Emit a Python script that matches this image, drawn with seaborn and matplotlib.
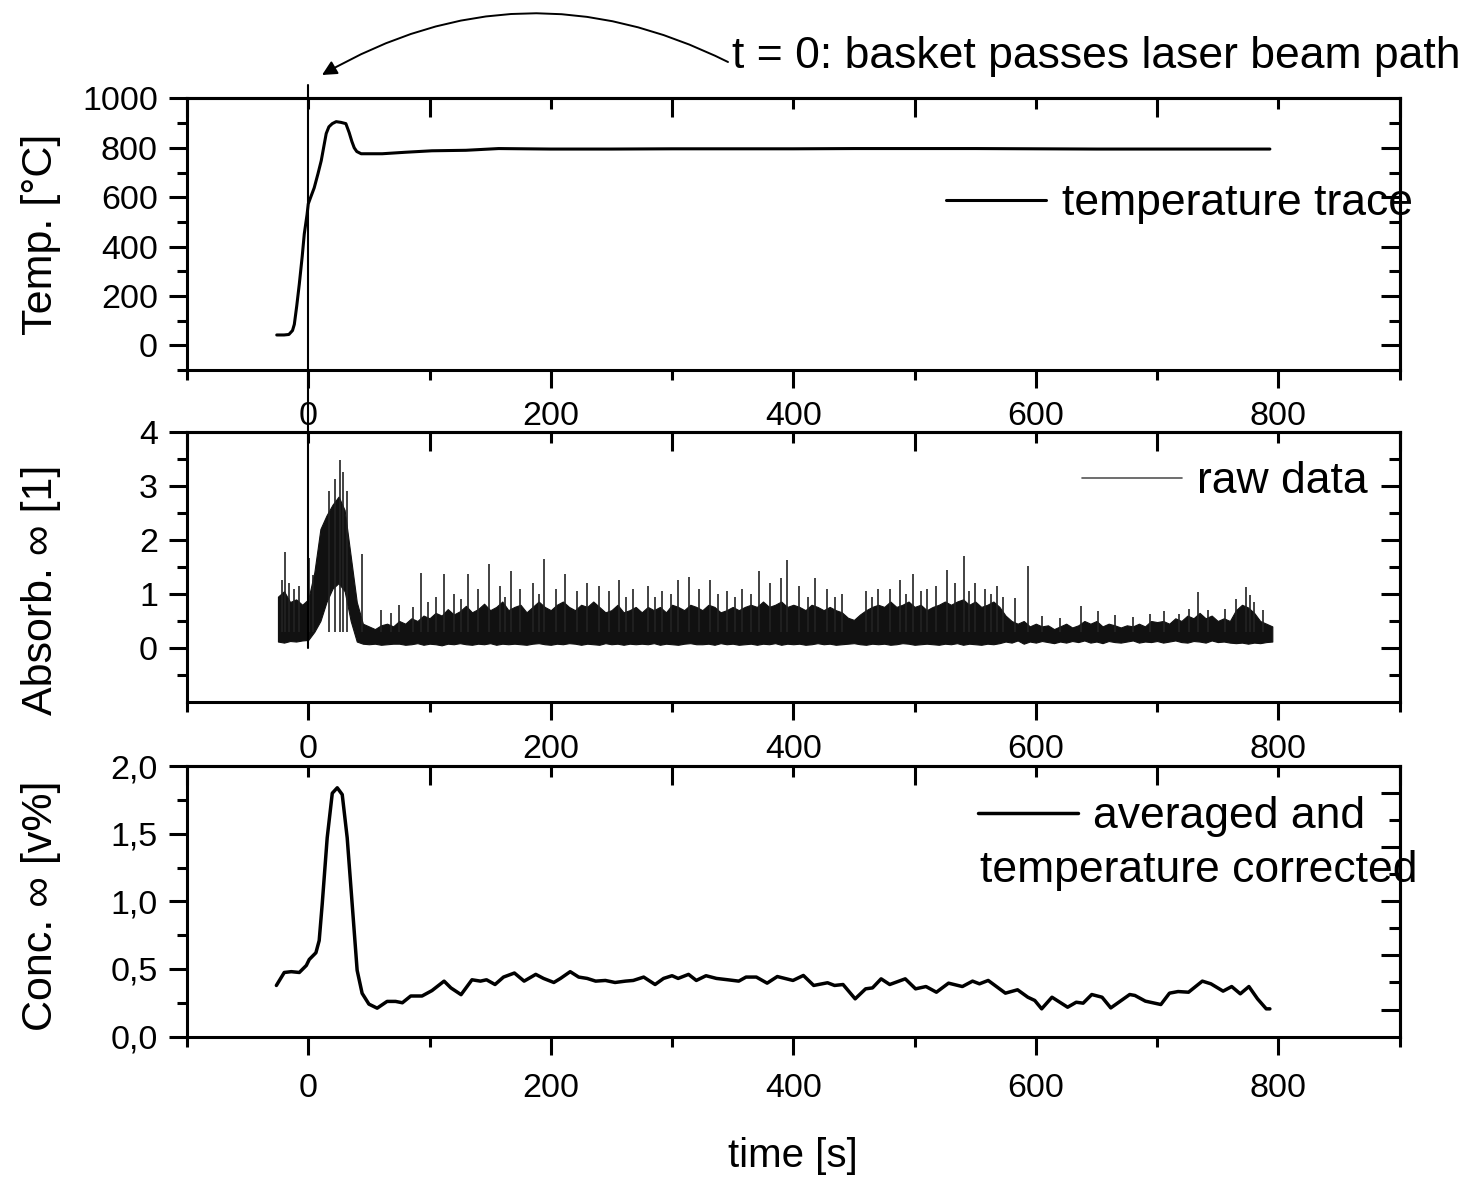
import numpy as np
import matplotlib
matplotlib.use("Agg")
import matplotlib.pyplot as plt
import seaborn as sns
from matplotlib.lines import Line2D
from matplotlib.ticker import FixedLocator, FixedFormatter

# ---- data ----
temp_t = [-26, -20, -16, -13, -11.5, -9.5, -7.4, -5, -3.3, -1, 0, 2, 4.9, 8, 10.7, 13, 14.8, 17,
          19.8, 23, 27, 31, 33.7, 36, 37.9, 40, 43.6, 50, 61, 80, 102, 130, 157, 200, 250, 300,
          350, 400, 450, 500, 550, 600, 650, 700, 750, 793]
temp_v = [42, 42, 44, 60, 85, 160, 248, 360, 451, 530, 573, 600, 638, 695, 748, 810, 858, 885,
          898, 906, 903, 898, 862, 825, 800, 785, 776, 776, 776, 782, 788, 790, 797, 795, 795, 796,
          796, 796, 797, 797, 797, 796, 795, 795, 795, 795]

# raw absorbance: band envelope sampled every 5 s, plus the tallest spikes
raw_t = np.arange(-25, 800, 5)
raw_hi = [0.95, 1.05, 0.85, 0.9, 0.8, 0.9, 1.4, 2.2, 2.45, 2.65,
          2.8, 2.55, 1.7, 0.85, 0.45, 0.4, 0.35, 0.42, 0.45, 0.4,
          0.5, 0.45, 0.55, 0.5, 0.6, 0.55, 0.65, 0.6, 0.72, 0.62,
          0.68, 0.78, 0.66, 0.72, 0.82, 0.7, 0.76, 0.86, 0.7, 0.76,
          0.8, 0.66, 0.76, 0.86, 0.76, 0.7, 0.8, 0.86, 0.76, 0.7,
          0.8, 0.76, 0.86, 0.76, 0.66, 0.7, 0.8, 0.66, 0.7, 0.76,
          0.66, 0.76, 0.7, 0.76, 0.66, 0.8, 0.76, 0.7, 0.8, 0.76,
          0.7, 0.8, 0.76, 0.66, 0.7, 0.76, 0.7, 0.76, 0.8, 0.76,
          0.86, 0.76, 0.8, 0.86, 0.76, 0.8, 0.76, 0.7, 0.8, 0.76,
          0.7, 0.76, 0.7, 0.66, 0.56, 0.52, 0.62, 0.7, 0.76, 0.8,
          0.76, 0.86, 0.76, 0.8, 0.86, 0.76, 0.8, 0.7, 0.76, 0.8,
          0.86, 0.8, 0.86, 0.9, 0.8, 0.86, 0.76, 0.8, 0.86, 0.76,
          0.6, 0.5, 0.45, 0.5, 0.4, 0.45, 0.4, 0.42, 0.35, 0.4,
          0.45, 0.38, 0.42, 0.5, 0.45, 0.5, 0.4, 0.45, 0.42, 0.38,
          0.42, 0.4, 0.45, 0.4, 0.5, 0.48, 0.5, 0.45, 0.55, 0.5,
          0.6, 0.55, 0.65, 0.55, 0.6, 0.5, 0.55, 0.5, 0.7, 0.8,
          0.75, 0.65, 0.5, 0.45, 0.4]
raw_lo = [0.12, 0.1, 0.13, 0.12, 0.14, 0.15, 0.3, 0.5, 0.85, 1.1,
          1.2, 1.05, 0.5, 0.12, 0.08, 0.07, 0.08, 0.06, 0.07, 0.08,
          0.08, 0.06, 0.07, 0.09, 0.06, 0.08, 0.07, 0.05, 0.08, 0.07,
          0.09, 0.07, 0.06, 0.08, 0.07, 0.09, 0.06, 0.08, 0.07, 0.08,
          0.07, 0.06, 0.08, 0.09, 0.07, 0.06, 0.08, 0.07, 0.09, 0.08,
          0.06, 0.08, 0.07, 0.06, 0.09, 0.07, 0.08, 0.06, 0.08, 0.07,
          0.08, 0.07, 0.09, 0.06, 0.08, 0.07, 0.06, 0.08, 0.09, 0.07,
          0.07, 0.08, 0.06, 0.09, 0.07, 0.08, 0.06, 0.07, 0.08, 0.06,
          0.08, 0.07, 0.09, 0.06, 0.08, 0.07, 0.08, 0.06, 0.07, 0.09,
          0.07, 0.08, 0.06, 0.07, 0.08, 0.09, 0.07, 0.06, 0.08, 0.07,
          0.08, 0.06, 0.07, 0.09, 0.08, 0.06, 0.07, 0.08, 0.07, 0.06,
          0.08, 0.07, 0.09, 0.06, 0.08, 0.07, 0.06, 0.08, 0.07, 0.09,
          0.12, 0.1, 0.14, 0.08, 0.12, 0.1, 0.13, 0.11, 0.09, 0.12,
          0.1, 0.13, 0.11, 0.14, 0.1, 0.12, 0.09, 0.13, 0.11, 0.1,
          0.12, 0.14, 0.1, 0.12, 0.11, 0.13, 0.1, 0.12, 0.14, 0.11,
          0.1, 0.13, 0.12, 0.1, 0.14, 0.11, 0.12, 0.1, 0.09, 0.1,
          0.08, 0.1, 0.09, 0.11, 0.12]
spike_t = [-22, -19, -16, -12, -8, 1, 4, 17, 22, 26, 29, 32, 44.6, 60, 68, 75, 86, 93, 99, 105,
           112, 120, 126, 131.7, 140, 149, 158, 162, 166.8, 175, 185, 190, 194.8, 204, 212, 222,
           230, 239.5, 248, 256.5, 262, 268, 280, 286, 292, 299, 305, 314, 322, 331, 338, 345,
           352, 358, 365, 372, 381, 390, 395, 405, 412, 418, 428, 434, 440, 460, 465, 470, 480,
           488, 493, 499, 505, 510, 518, 527, 533, 540.5, 545, 550, 558, 563, 568, 573, 583,
           593.4, 605, 620, 637, 651, 665, 680, 694.5, 706, 718, 726.5, 734, 742, 756, 765, 773,
           777, 780, 787]
spike_v = [1.25, 1.78, 1.2, 1.1, 1.15, 1.66, 1.35, 2.9, 3.13, 3.47, 3.25, 2.9, 1.74, 0.7, 0.65,
           0.8, 0.75, 1.39, 0.85, 0.95, 1.37, 1.0, 0.9, 1.37, 1.1, 1.55, 1.15, 0.95, 1.42, 1.1,
           1.2, 1.0, 1.64, 1.1, 1.37, 1.05, 1.2, 1.15, 1.05, 1.26, 0.95, 1.1, 1.15, 0.95, 1.05,
           1.0, 1.26, 1.32, 1.1, 1.25, 1.0, 1.05, 0.95, 1.1, 1.0, 1.42, 1.2, 1.3, 1.63, 1.15,
           0.95, 1.3, 1.1, 0.95, 1.0, 1.05, 0.95, 1.1, 1.1, 1.26, 1.0, 1.36, 1.05, 1.1, 1.15,
           1.45, 1.2, 1.71, 1.05, 1.2, 1.1, 1.0, 1.15, 0.95, 0.93, 1.52, 0.6, 0.55, 0.77, 0.69,
           0.61, 0.58, 0.63, 0.68, 0.62, 0.73, 1.04, 0.7, 0.72, 0.9, 1.12, 0.98, 0.85, 0.7]

conc_t = [-26.3, -19.8, -14, -7.4, -1.6, 0.8, 6.3, 9, 11.5, 15.6,
          19.8, 23.9, 28, 32.1, 36.2, 40.3, 44.4, 50, 56.8, 65,
          72, 77.6, 84.5, 93.8, 102, 112, 117.6, 126, 135, 142,
          147, 154, 161, 170, 178, 187.6, 194, 202.5, 208, 216,
          223, 230, 237, 245, 253, 261.6, 268, 276.6, 286, 293,
          300, 305, 313.6, 320, 328, 336.6, 346, 355, 361, 369.5,
          378.4, 386.8, 399.7, 408.3, 416.8, 428.2, 434, 441, 451, 459.6,
          465.3, 472.4, 479.5, 492.3, 500.8, 509.4, 518, 528, 539.4, 547.8,
          553.5, 560.7, 574.9, 584.9, 593.4, 599.1, 604.8, 613.3, 626.2, 633.3,
          639, 646.1, 654.6, 661.8, 677.4, 681.7, 690.3, 703.1, 710.2, 717.3,
          725.9, 737.3, 744.4, 754.4, 761.5, 768.6, 775.7, 782.8, 790, 793]
conc_v = [0.378, 0.474, 0.48, 0.474, 0.526, 0.57, 0.62, 0.71, 0.98, 1.47,
          1.80, 1.84, 1.79, 1.47, 0.98, 0.49, 0.32, 0.24, 0.21, 0.26,
          0.26, 0.25, 0.30, 0.30, 0.34, 0.41, 0.36, 0.31, 0.42, 0.41,
          0.42, 0.385, 0.44, 0.47, 0.41, 0.46, 0.43, 0.40, 0.43, 0.48,
          0.44, 0.43, 0.41, 0.415, 0.40, 0.41, 0.415, 0.44, 0.385, 0.43,
          0.45, 0.43, 0.46, 0.415, 0.45, 0.43, 0.42, 0.41, 0.44, 0.44,
          0.395, 0.444, 0.415, 0.452, 0.378, 0.398, 0.378, 0.385, 0.279, 0.353,
          0.360, 0.427, 0.385, 0.427, 0.353, 0.370, 0.328, 0.395, 0.370, 0.410,
          0.390, 0.415, 0.321, 0.346, 0.291, 0.267, 0.205, 0.291, 0.217, 0.254,
          0.247, 0.311, 0.291, 0.212, 0.311, 0.304, 0.262, 0.237, 0.321, 0.333,
          0.328, 0.410, 0.390, 0.336, 0.370, 0.316, 0.370, 0.279, 0.205, 0.205]

x_ticks = [0, 200, 400, 600, 800]
x_ticklabels = ["0", "200", "400", "600", "800"]
temp_ticks = [0, 200, 400, 600, 800, 1000]
absorb_ticks = [0, 1, 2, 3, 4]
conc_ticks = [0.0, 0.5, 1.0, 1.5, 2.0]
conc_ticklabels = ["0,0", "0,5", "1,0", "1,5", "2,0"]

# ---- style ----
sns.set_style("ticks")
plt.rcParams['font.family'] = ['Liberation Sans', 'DejaVu Sans']
for key in ['axes.edgecolor', 'xtick.color', 'ytick.color', 'text.color', 'axes.labelcolor']:
    plt.rcParams[key] = 'black'

LW = 2.2
fig = plt.figure(figsize=(14.61, 11.86), dpi=100)
ax1 = fig.add_axes([0.128, 0.688, 0.830, 0.229])
ax2 = fig.add_axes([0.128, 0.408, 0.830, 0.228])
ax3 = fig.add_axes([0.128, 0.126, 0.830, 0.228])


def style(ax, yticks, yminor, ylim, rmajor, rminor, xpad):
    ax.set_xlim(-100, 900)
    ax.set_ylim(*ylim)
    for s in ax.spines.values():
        s.set_linewidth(LW)
    ax.xaxis.set_major_locator(FixedLocator(x_ticks))
    ax.xaxis.set_major_formatter(FixedFormatter(x_ticklabels))
    ax.xaxis.set_minor_locator(FixedLocator([-100, 100, 300, 500, 700, 900]))
    ax.yaxis.set_major_locator(FixedLocator(yticks))
    ax.yaxis.set_minor_locator(FixedLocator(yminor))
    ax.tick_params(which='major', direction='out', length=13, width=LW, labelsize=24.5)
    ax.tick_params(which='minor', direction='out', length=7, width=LW)
    ax.tick_params(axis='x', which='major', pad=xpad)
    ax.tick_params(axis='y', which='major', pad=8)
    top = ax.secondary_xaxis('top')
    top.xaxis.set_major_locator(FixedLocator([-100, 100, 300, 500, 700, 900]))
    top.xaxis.set_minor_locator(FixedLocator(x_ticks))
    top.tick_params(which='major', direction='in', length=14, width=LW)
    top.tick_params(which='minor', direction='in', length=8, width=LW)
    top.tick_params(which='both', labeltop=False, labelbottom=False)
    top.spines['top'].set_linewidth(LW)
    right = ax.secondary_yaxis('right')
    right.yaxis.set_major_locator(FixedLocator(rmajor))
    right.yaxis.set_minor_locator(FixedLocator(rminor))
    right.tick_params(which='major', direction='in', length=14, width=LW)
    right.tick_params(which='minor', direction='in', length=8, width=LW)
    right.tick_params(which='both', labelright=False, labelleft=False)
    right.spines['right'].set_linewidth(LW)


# panel 1: temperature
sns.lineplot(x=temp_t, y=temp_v, ax=ax1, color='black', lw=2.2, sort=False,
             estimator=None, label='temperature trace')
style(ax1, temp_ticks, [-100, 100, 300, 500, 700, 900], (-100, 1000),
      [0, 200, 400, 600, 800], [-100, 100, 300, 500, 700, 900], 9)
ax1.set_ylabel('Temp. [°C]', fontsize=31)
ax1.yaxis.set_label_coords(-0.104, 0.5)
ax1.set_xlabel('')
ax1.legend(loc='center left', bbox_to_anchor=(0.626, 0.612), frameon=False, borderpad=0,
           borderaxespad=0, handlelength=2.25, handletextpad=0.35, fontsize=32)
ax1.axvline(0, ymin=-0.228, ymax=1.048, clip_on=False, color='black', lw=1.5)

# panel 2: raw absorbance
ax2.fill_between(raw_t, raw_lo, raw_hi, color='#111111', lw=0.8)
ax2.vlines(spike_t, 0.3, spike_v, color='#222222', lw=1.2)
style(ax2, absorb_ticks, [-0.5, 0.5, 1.5, 2.5, 3.5], (-1, 4),
      [0, 1, 2, 3], [-0.5, 0.5, 1.5, 2.5, 3.5], 10)
ax2.set_ylabel('Absorb. ∞ [1]', fontsize=31)
ax2.yaxis.set_label_coords(-0.104, 0.415)
ax2.legend(handles=[Line2D([], [], color='#555555', lw=1.2)], labels=['raw data'],
           loc='center left', bbox_to_anchor=(0.738, 0.815), frameon=False, borderpad=0,
           borderaxespad=0, handlelength=2.25, handletextpad=0.33, fontsize=32)
ax2.axvline(0, ymin=0.2, ymax=1, color='black', lw=1.5)

# panel 3: averaged concentration
sns.lineplot(x=conc_t, y=conc_v, ax=ax3, color='black', lw=2.5, sort=False,
             estimator=None, label='averaged and')
style(ax3, conc_ticks, [0.25, 0.75, 1.25, 1.75], (0, 2),
      [0.2, 0.6, 1.0, 1.4, 1.8], [0.4, 0.8, 1.2, 1.6], 13)
ax3.yaxis.set_major_formatter(FixedFormatter(conc_ticklabels))
ax3.set_ylabel('Conc. ∞ [v%]', fontsize=31)
ax3.yaxis.set_label_coords(-0.104, 0.485)
ax3.set_xlabel('time [s]', fontsize=29)
ax3.xaxis.set_label_coords(0.5, -0.37)
ax3.legend(loc='center left', bbox_to_anchor=(0.652, 0.812), frameon=False, borderpad=0,
           borderaxespad=0, handlelength=2.25, handletextpad=0.35, fontsize=32)
ax3.text(0.654, 0.615, 'temperature corrected', transform=ax3.transAxes, fontsize=32,
         ha='left', va='center')

# annotation on top
fig.text(0.501, 1 - 68 / 1186, 't = 0: basket passes laser beam path', fontsize=32,
         ha='left', va='baseline')
ax1.annotate('', xy=(322 / 1461, 1 - 75 / 1186), xytext=(728 / 1461, 1 - 62 / 1186),
             xycoords='figure fraction', textcoords='figure fraction',
             arrowprops=dict(arrowstyle='-|>', color='black', lw=1.4, mutation_scale=22,
                             shrinkA=0, shrinkB=0, connectionstyle='arc3,rad=0.27'))

fig.savefig('out.png', dpi=100)
